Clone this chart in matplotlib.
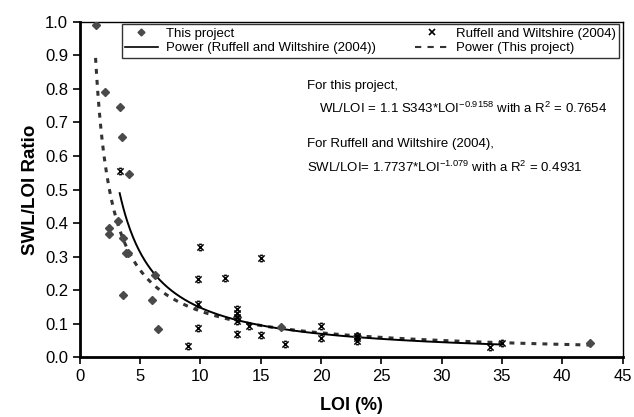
import numpy as np
import matplotlib
matplotlib.use("Agg")
import matplotlib.pyplot as plt
from matplotlib.lines import Line2D
from matplotlib.path import Path

plt.rcParams["font.family"] = ["Liberation Sans", "DejaVu Sans"]
plt.rcParams["mathtext.fontset"] = "custom"
plt.rcParams["mathtext.rm"] = "Liberation Sans"
plt.rcParams["mathtext.it"] = "Liberation Sans"

# This project (diamonds)
proj_loi = [1.3, 2.1, 3.3, 3.5, 4.1, 2.4, 2.4, 3.2, 3.6, 3.8, 4.0, 3.6, 6.2, 6.0, 6.5, 13.0, 16.7, 23.0, 42.3]
proj_ratio = [0.99, 0.79, 0.745, 0.655, 0.545, 0.385, 0.368, 0.405, 0.355, 0.31, 0.31, 0.187, 0.245, 0.17, 0.085,
              0.12, 0.09, 0.065, 0.042]

# Ruffell and Wiltshire (2004) (stars)
rw_loi = [3.3, 10.0, 9.8, 12.0, 15.0, 9.8, 9.8, 9.0, 13.0, 13.0, 13.0, 13.0, 13.0, 14.0, 15.0, 17.0,
          20.0, 20.0, 23.0, 23.0, 23.0, 34.0, 35.0]
rw_ratio = [0.555, 0.33, 0.232, 0.237, 0.296, 0.159, 0.087, 0.035, 0.145, 0.133, 0.12, 0.108, 0.069, 0.094, 0.068,
            0.041, 0.092, 0.058, 0.063, 0.059, 0.05, 0.031, 0.043]

# power trendlines, coefficients from the chart text
proj_a, proj_b, proj_range = 1.1343, -0.9158, (1.3, 42.3)
rw_a, rw_b, rw_range = 1.7737, -1.079, (3.3, 35.0)

# excel style star marker: x with short caps top and bottom
star = Path([(-1, -1), (1, 1), (-1, 1), (1, -1), (-0.45, 1), (0.45, 1), (-0.45, -1), (0.45, -1)],
            [Path.MOVETO, Path.LINETO] * 4)

fig = plt.figure(figsize=(6.34, 4.17), dpi=100)
ax = fig.add_axes([0.126, 0.143, 0.856, 0.805])

x1 = np.linspace(proj_range[0], proj_range[1], 400)
ax.plot(x1, proj_a * x1 ** proj_b, color="#333333", lw=2.2, ls=(0, (1.6, 2.0)), zorder=2)
x2 = np.linspace(rw_range[0], rw_range[1], 400)
ax.plot(x2, rw_a * x2 ** rw_b, color="black", lw=1.4, zorder=2)

ax.plot(proj_loi, proj_ratio, ls="none", marker="D", ms=3.8, color="#4a4a4a", mec="#4a4a4a", zorder=3)
ax.plot(rw_loi, rw_ratio, ls="none", marker=star, ms=4.5, mew=1.1, color="black", mfc="none", zorder=3)

ax.set_xlim(0, 45)
ax.set_ylim(0, 1.0)
ax.set_xticks(np.arange(0, 46, 5))
ax.set_yticks(np.arange(0, 1.01, 0.1))
ax.set_yticklabels(["%.1f" % v for v in np.arange(0, 1.01, 0.1)])
ax.tick_params(direction="out", length=5, width=1.2, labelsize=12, top=False, right=False)
ax.spines["left"].set_linewidth(2)
ax.spines["bottom"].set_linewidth(2)
ax.spines["top"].set_linewidth(1)
ax.spines["right"].set_linewidth(1)

ax.set_xlabel("LOI (%)", fontsize=13, fontweight="bold", labelpad=9)
ax.set_ylabel("SWL/LOI Ratio", fontsize=13.5, fontweight="bold", labelpad=4)

handles = [
    Line2D([], [], ls="none", marker="D", ms=3.5, color="#4a4a4a"),
    Line2D([], [], color="black", lw=1.2),
    Line2D([], [], ls="none", marker="x", ms=4, mew=1.2, color="black"),
    Line2D([], [], color="#333333", lw=1.5, ls=(0, (3, 3))),
]
labels = ["This project", "Power (Ruffell and Wiltshire (2004))",
          "Ruffell and Wiltshire (2004)", "Power (This project)"]
leg = ax.legend(handles, labels, ncol=2, loc="upper left", bbox_to_anchor=(0.077, 0.993),
                fontsize=9.5, frameon=True, fancybox=False, edgecolor="black",
                borderpad=0.25, labelspacing=0.2, handlelength=2.5, handletextpad=0.6,
                columnspacing=3.0, borderaxespad=0)
leg.get_frame().set_linewidth(1.0)

ax.text(0.418, 0.8, "For this project,", transform=ax.transAxes, fontsize=9.5)
ax.text(0.44, 0.727, r"WL/LOI = 1.1 S343*LOI$^{\mathrm{-0.9158}}$ with a R$^{\mathrm{2}}$ = 0.7654",
        transform=ax.transAxes, fontsize=9.5)
ax.text(0.418, 0.628, "For Ruffell and Wiltshire (2004),", transform=ax.transAxes, fontsize=9.5)
ax.text(0.418, 0.552, r"SWL/LOI= 1.7737*LOI$^{\mathrm{-1.079}}$ with a R$^{\mathrm{2}}$ = 0.4931",
        transform=ax.transAxes, fontsize=9.5)

plt.savefig("out.png", dpi=100)
